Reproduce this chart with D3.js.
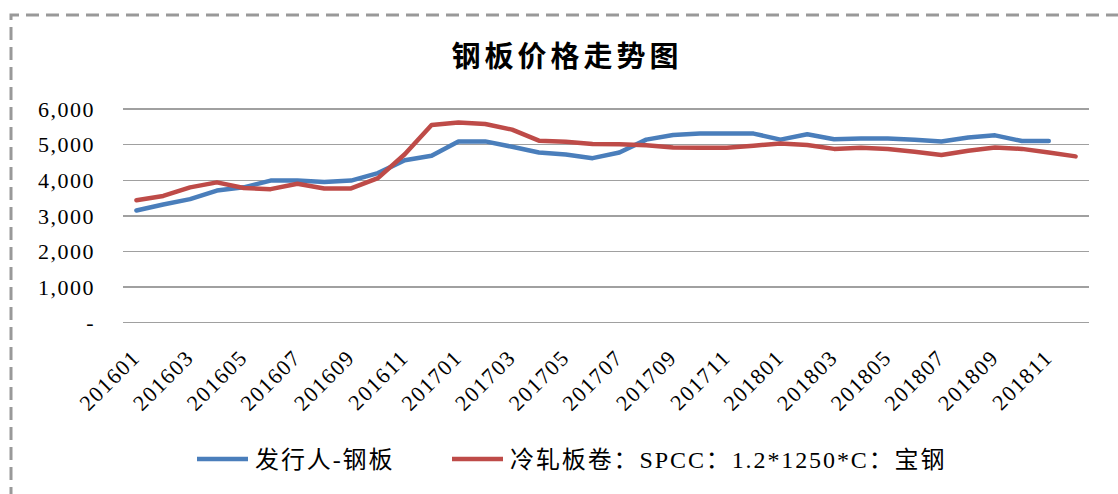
<!DOCTYPE html>
<head>
	<meta charset="utf-8">
	<script type="text/javascript" src="https://cdn.jsdelivr.net/npm/d3@7"></script>
</head>
<style type="text/css">
body{
	margin: 0;
	background: #fff;
}
.grid line{
	stroke: #a0a0a0;
	stroke-width: 1.3px;
	shape-rendering: crispEdges;
}
.ylab text, .xlab text{
	font-family: "Liberation Serif", "Times New Roman", serif;
	font-size: 22px;
	fill: #000;
	letter-spacing: 1.5px;
}
path.line{
	fill: none;
	stroke-width: 4.5px;
	stroke-linejoin: round;
	stroke-linecap: round;
}
.title{
	font-family: "Noto Sans CJK SC", sans-serif;
	font-size: 29px;
	font-weight: bold;
	letter-spacing: 4px;
}
.legend text{
	font-family: "Liberation Serif", "Noto Sans CJK SC", serif;
	font-size: 24px;
	letter-spacing: 1.9px;
}
</style>
<body>
	<div class="viz"></div>
</body>
<script type="text/javascript">
var months=["201601","201602","201603","201604","201605","201606","201607","201608","201609","201610","201611","201612",
	"201701","201702","201703","201704","201705","201706","201707","201708","201709","201710","201711","201712",
	"201801","201802","201803","201804","201805","201806","201807","201808","201809","201810","201811","201812"];

// 发行人-钢板 (ends 201811)
var issuer=[3150,3320,3470,3710,3800,3990,3990,3950,3990,4200,4560,4690,
	5090,5090,4940,4780,4720,4620,4780,5140,5270,5310,5310,5310,
	5140,5290,5150,5170,5170,5140,5090,5200,5260,5100,5100];

// 冷轧板卷 SPCC 宝钢
var spcc=[3440,3560,3800,3940,3780,3750,3900,3770,3770,4060,4730,5550,
	5620,5580,5420,5110,5080,5020,5010,4980,4920,4910,4910,4970,
	5030,4990,4880,4910,4880,4800,4710,4830,4920,4880,4780,4670];

var yticks=[0,1000,2000,3000,4000,5000,6000];
var names=["发行人-钢板","冷轧板卷：SPCC：1.2*1250*C：宝钢"];
var colors=["#4a7ebb","#be4b48"];

var W=1118,H=494;
var svg=d3.select(".viz").append("svg").attr("width",W).attr("height",H);

// dashed frame, only top and left are visible
svg.append("path").attr("d","M11,1000 L11,15 L1200,15")
	.attr("fill","none").attr("stroke","#999").attr("stroke-width",3).attr("stroke-dasharray","13,7");

svg.append("text").attr("class","title").attr("x",567).attr("y",67)
	.attr("text-anchor","middle").text("钢板价格走势图");

var x=d3.scaleBand().domain(months).range([123,1089]);
var y=d3.scaleLinear().domain([0,6000]).range([322.7,109]);

svg.append("g").attr("class","grid").selectAll("line").data(yticks).enter().append("line")
	.attr("x1",123).attr("x2",1089).attr("y1",function(d){return y(d);}).attr("y2",function(d){return y(d);});

svg.append("g").attr("class","ylab").selectAll("text").data(yticks).enter().append("text")
	.attr("x",95).attr("y",function(d){return y(d);}).attr("dy","0.35em").attr("text-anchor","end")
	.text(function(d){return d==0?"-":d3.format(",")(d);});

var xl=svg.append("g").attr("class","xlab").selectAll("text")
	.data(months.filter(function(d,i){return i%2==0;})).enter().append("text")
	.attr("text-anchor","end")
	.attr("transform",function(d){return "translate("+(x(d)+x.bandwidth()/2+5)+",359) rotate(-45)";})
	.text(function(d){return d;});

var line=d3.line()
	.x(function(d,i){return x(months[i])+x.bandwidth()/2;})
	.y(function(d){return y(d);});

[issuer,spcc].forEach(function(s,k){
	svg.append("path").attr("class","line").attr("d",line(s)).style("stroke",colors[k]);
});

var lg=svg.append("g").attr("class","legend");
var lx=[197,452];
names.forEach(function(n,k){
	lg.append("line").attr("x1",lx[k]).attr("x2",lx[k]+51).attr("y1",459).attr("y2",459)
		.attr("stroke",colors[k]).attr("stroke-width",4.5);
	lg.append("text").attr("x",lx[k]+58).attr("y",459).attr("dy","0.36em").text(n);
});
</script>
